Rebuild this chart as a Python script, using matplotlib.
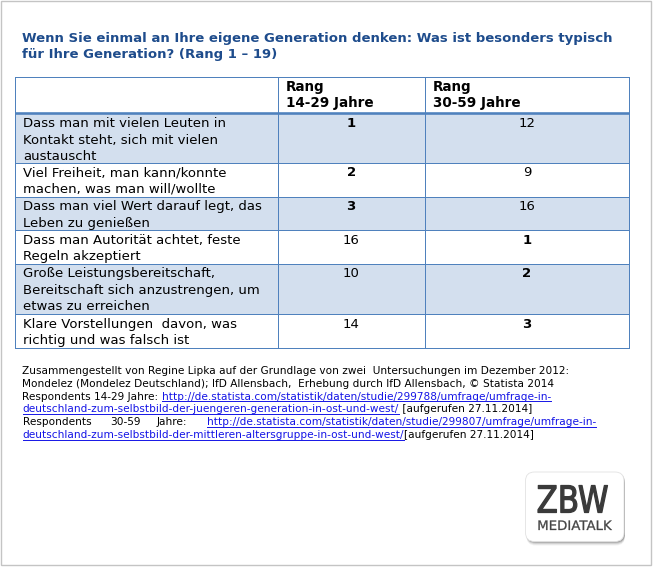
import matplotlib
matplotlib.use("Agg")
import matplotlib.pyplot as plt
from matplotlib.patches import Rectangle, FancyBboxPatch, PathPatch
from matplotlib.textpath import TextPath
from matplotlib.font_manager import FontProperties
from matplotlib.transforms import Affine2D

# ---------------- data ----------------
title_lines = [
    "Wenn Sie einmal an Ihre eigene Generation denken: Was ist besonders typisch",
    "für Ihre Generation? (Rang 1 – 19)",
]
header_14_29 = ["Rang", "14-29 Jahre"]
header_30_59 = ["Rang", "30-59 Jahre"]
item_labels = [
    ["Dass man mit vielen Leuten in", "Kontakt steht, sich mit vielen", "austauscht"],
    ["Viel Freiheit, man kann/konnte", "machen, was man will/wollte"],
    ["Dass man viel Wert darauf legt, das", "Leben zu genießen"],
    ["Dass man Autorität achtet, feste", "Regeln akzeptiert"],
    ["Große Leistungsbereitschaft,", "Bereitschaft sich anzustrengen, um", "etwas zu erreichen"],
    ["Klare Vorstellungen  davon, was", "richtig und was falsch ist"],
]
rank_14_29 = [1, 2, 3, 16, 10, 14]
rank_30_59 = [12, 9, 16, 1, 2, 3]

footnote_line1 = "Zusammengestellt von Regine Lipka auf der Grundlage von zwei  Untersuchungen im Dezember 2012:"
footnote_line2 = "Mondelez (Mondelez Deutschland); IfD Allensbach,  Erhebung durch IfD Allensbach, © Statista 2014"
resp_young = "Respondents 14-29 Jahre: "
link_young = ["http://de.statista.com/statistik/daten/studie/299788/umfrage/umfrage-in-",
              "deutschland-zum-selbstbild-der-juengeren-generation-in-ost-und-west/"]
accessed_young = " [aufgerufen 27.11.2014]"
resp_mid_words = ["Respondents", "30-59", "Jahre:"]
link_mid = ["http://de.statista.com/statistik/daten/studie/299807/umfrage/umfrage-in-",
            "deutschland-zum-selbstbild-der-mittleren-altersgruppe-in-ost-und-west/"]
accessed_mid = "[aufgerufen 27.11.2014]"
logo_big = "ZBW"
logo_small = "MEDIATALK"

# ---------------- style ----------------
FONT = "DejaVu Sans"
TITLE_COLOR = "#1E4C8C"
BORDER = "#4F81BD"
FILL = "#D3DFEE"
LINK = "#1414E6"

W, H = 655, 567
fig = plt.figure(figsize=(W / 100, H / 100), dpi=100)
ax = fig.add_axes([0, 0, 1, 1])
ax.set_xlim(0, W)
ax.set_ylim(H, 0)
ax.axis("off")
renderer = fig.canvas.get_renderer()


def lw_px(p):
    return p * 0.72


def text_width(s, size, weight="normal"):
    t = ax.text(0, 0, s, fontsize=size, fontweight=weight, family=FONT)
    w = t.get_window_extent(renderer).width
    t.remove()
    return w


def fit(s, target, weight="normal"):
    return 10 * target / text_width(s, 10, weight)


# outer frame
ax.add_patch(Rectangle((0.7, 0.7), 650.6, 564.5, fill=False, ec="#C4C4C4", lw=1.0))

# ---------------- title ----------------
title_fs = fit(title_lines[0], 592, "bold")
for i, line in enumerate(title_lines):
    ax.text(22.5, 41.7 + i * 16.6, line, fontsize=title_fs, fontweight="bold",
            color=TITLE_COLOR, family=FONT, va="baseline", ha="left")

# ---------------- table ----------------
col_x = [15.3, 277.5, 424.7, 629.0]
header_top, header_bottom = 77.3, 112.5
line_h = 16.6
body_fs = fit(item_labels[0][0], 201)
head_fs = fit(header_14_29[1], 88, "bold")

row_tops = []
y = header_bottom
for lab in item_labels:
    h = line_h * len(lab) + 0.5
    row_tops.append((y, h))
    y += h
table_bottom = y

for i, (top, h) in enumerate(row_tops):
    if i % 2 == 0:
        ax.add_patch(Rectangle((col_x[0], top), col_x[-1] - col_x[0], h,
                               fc=FILL, ec="none", zorder=1))

# grid lines
thin = lw_px(1.0)
for x in col_x:
    ax.plot([x, x], [header_top, table_bottom], color=BORDER, lw=thin, zorder=3,
            solid_capstyle="butt")
ax.plot([col_x[0], col_x[-1]], [header_top, header_top], color=BORDER, lw=thin, zorder=3)
for top, h in row_tops[1:]:
    ax.plot([col_x[0], col_x[-1]], [top, top], color=BORDER, lw=thin, zorder=3)
ax.plot([col_x[0], col_x[-1]], [table_bottom, table_bottom], color=BORDER, lw=thin, zorder=3)
ax.plot([col_x[0], col_x[-1]], [header_bottom, header_bottom], color=BORDER,
        lw=lw_px(2.6), zorder=4, solid_capstyle="butt")

# header text
for c, hdr in ((1, header_14_29), (2, header_30_59)):
    for j, s in enumerate(hdr):
        ax.text(col_x[c] + 8.0, header_top + 13.4 + j * 16.0, s, fontsize=head_fs,
                fontweight="bold", family=FONT, va="baseline", ha="left", zorder=5)

# body
for i, (top, h) in enumerate(row_tops):
    off = 14.8 if i == 0 else 13.4
    for j, s in enumerate(item_labels[i]):
        ax.text(col_x[0] + 7.5, top + off + j * line_h, s, fontsize=body_fs,
                family=FONT, va="baseline", ha="left", zorder=5)
    for c, val in ((1, rank_14_29[i]), (2, rank_30_59[i])):
        ax.text((col_x[c] + col_x[c + 1]) / 2, top + off, str(val), fontsize=body_fs,
                fontweight="bold" if val <= 3 else "normal", family=FONT,
                va="baseline", ha="center", zorder=5)

# ---------------- footnote ----------------
foot_fs = fit(footnote_line1, 543)
fx = 22.5
base = [374.0, 386.8, 399.6, 412.4, 425.2, 438.0]


def seg(x, yb, s, link=False):
    t = ax.text(x, yb, s, fontsize=foot_fs, family=FONT, va="baseline", ha="left",
                color=LINK if link else "black")
    w = t.get_window_extent(renderer).width
    if link:
        ax.plot([x, x + w], [yb + 1.6, yb + 1.6], color=LINK, lw=0.7)
    return x + w


seg(fx, base[0], footnote_line1)
seg(fx, base[1], footnote_line2)
x = seg(fx, base[2], resp_young)
seg(x, base[2], link_young[0], True)
x = seg(fx, base[3], link_young[1], True)
seg(x, base[3], accessed_young)
# justified line (word starts as in the reference)
word_x = [fx, 110.7, 156.6, 206.8]
for k, w_ in enumerate(resp_mid_words + [link_mid[0]]):
    seg(word_x[k], base[4], w_, link=(k == 3))
x = seg(fx, base[5], link_mid[1], True)
seg(x, base[5], accessed_mid)

# ---------------- logo ----------------
bx0, by0, bx1, by1 = 525.5, 472.0, 624.0, 541.5
for k, a in enumerate([0.05, 0.08, 0.12, 0.16]):
    d = 4 - k
    ax.add_patch(FancyBboxPatch((bx0 + 1, by0 + d), bx1 - bx0, by1 - by0,
                                boxstyle="round,pad=0,rounding_size=9",
                                fc="black", ec="none", alpha=a, zorder=6))
ax.add_patch(FancyBboxPatch((bx0, by0), bx1 - bx0, by1 - by0,
                            boxstyle="round,pad=0,rounding_size=9",
                            fc="white", ec="#E2E2E2", lw=0.6, zorder=7))


def fitted_path(s, x0, y0, x1, y1, weight, color, stroke):
    tp = TextPath((0, 0), s, size=50, prop=FontProperties(family=FONT, weight=weight))
    ext = tp.get_extents()
    sx = (x1 - x0) / ext.width
    sy = (y1 - y0) / ext.height
    tr = Affine2D().translate(-ext.x0, -ext.y0).scale(sx, -sy).translate(x0, y1)
    ax.add_patch(PathPatch(tr.transform_path(tp), fc=color, ec=color, lw=stroke,
                           joinstyle="round", zorder=8))


fitted_path(logo_big, 538.0, 485.5, 607.5, 512.5, "normal", "#3A3A3A", 0.9)
fitted_path(logo_small, 538.5, 520.5, 612.0, 530.0, "normal", "#444444", 0.2)

fig.savefig("out.png", dpi=100)
